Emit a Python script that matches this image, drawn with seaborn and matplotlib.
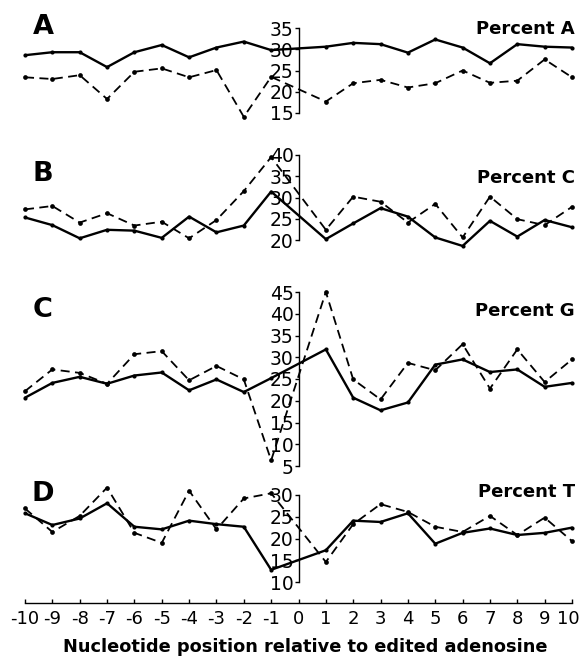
import matplotlib
matplotlib.use("Agg")
import matplotlib.pyplot as plt
import matplotlib.transforms as mtransforms
import seaborn as sns
import numpy as np

positions = [-10, -9, -8, -7, -6, -5, -4, -3, -2, -1, 1, 2, 3, 4, 5, 6, 7, 8, 9, 10]

a_solid = [28.6, 29.3, 29.3, 25.8, 29.3, 31.0, 28.1, 30.4, 31.8, 29.8,
           30.6, 31.5, 31.2, 29.2, 32.3, 30.4, 26.7, 31.2, 30.6, 30.4]
a_dashed = [23.4, 23.0, 23.9, 18.3, 24.7, 25.5, 23.4, 25.1, 14.1, 23.5,
            17.7, 22.0, 22.8, 21.0, 22.0, 25.0, 22.1, 22.6, 27.6, 23.4]

c_solid = [25.3, 23.5, 20.4, 22.4, 22.2, 20.5, 25.5, 21.8, 23.4, 31.4,
           20.2, 23.9, 27.5, 25.5, 20.6, 18.6, 24.5, 20.8, 24.7, 23.0]
c_dashed = [27.2, 28.0, 24.1, 26.3, 23.4, 24.3, 20.4, 24.7, 31.5, 39.5,
            22.4, 30.2, 29.0, 24.1, 28.5, 20.6, 30.2, 24.9, 23.5, 27.8]

g_solid = [20.7, 24.1, 25.5, 23.9, 25.8, 26.5, 22.4, 24.9, 22.0, 25.2,
           31.8, 20.7, 17.8, 19.6, 28.3, 29.5, 26.6, 27.2, 23.2, 24.1]
g_dashed = [22.2, 27.2, 26.4, 23.9, 30.7, 31.4, 24.7, 28.0, 24.9, 6.3,
            45.0, 24.9, 20.3, 28.7, 27.0, 33.0, 22.8, 31.8, 24.3, 29.5]

t_solid = [25.8, 23.1, 24.6, 28.1, 22.7, 22.1, 24.1, 23.3, 22.7, 12.8,
           17.3, 24.1, 23.8, 25.8, 18.8, 21.3, 22.3, 20.8, 21.3, 22.5]
t_dashed = [26.9, 21.5, 25.2, 31.7, 21.3, 19.0, 31.0, 22.1, 29.2, 30.4,
            14.6, 23.3, 27.9, 26.1, 22.7, 21.5, 25.2, 20.8, 24.8, 19.4]

panel_letters = ["A", "B", "C", "D"]
panel_titles = ["Percent A", "Percent C", "Percent G", "Percent T"]
xtick_labels = [str(v) for v in range(-10, 11)]
xlabel = "Nucleotide position relative to edited adenosine"

sns.set_style("white")
plt.rcParams["font.family"] = ["DejaVu Sans"]
plt.rcParams.update({
    "text.color": "black",
    "axes.labelcolor": "black",
    "axes.edgecolor": "black",
    "xtick.color": "black",
    "ytick.color": "black",
})

W, H = 581, 660
fig = plt.figure(figsize=(W / 100, H / 100), dpi=100)

x_left, x_right = 25, 572

# (series_solid, series_dashed, ylim_low, ylim_high, px_low, px_high, yticks, spine bounds)
panels = [
    (a_solid, a_dashed, 15, 35, 113, 28, [15, 20, 25, 30, 35], (15, 35)),
    (c_solid, c_dashed, 20, 40, 240, 155, [20, 25, 30, 35, 40], (20, 40)),
    (g_solid, g_dashed, 5, 45, 466, 292, list(range(5, 46, 5)), (5, 45)),
    (t_solid, t_dashed, 10, 30, 582, 495, [10, 15, 20, 25, 30], (10, 30)),
]

letter_y = [27, 174, 310, 494]
title_y = [29, 178, 311, 492]

for i, (sol, dsh, ylo, yhi, plo, phi, yt, bounds) in enumerate(panels):
    scale = (plo - phi) / (yhi - ylo)
    if i == 3:
        plo_ext = 603
        ylo_ext = ylo - (plo_ext - plo) / scale
    else:
        plo_ext = plo
        ylo_ext = ylo
    ax_h = plo_ext - phi
    ax = fig.add_axes([x_left / W, 1 - plo_ext / H, (x_right - x_left) / W, ax_h / H])
    ax.patch.set_alpha(0)
    sns.lineplot(x=positions, y=sol, ax=ax, color="black", lw=1.7,
                 marker="o", markersize=3, markeredgewidth=0, clip_on=False)
    sns.lineplot(x=positions, y=dsh, ax=ax, color="black", lw=1.3,
                 marker="o", markersize=3.4, markeredgewidth=0, clip_on=False)
    ax.lines[-1].set_dashes([5, 3])
    ax.set_xlim(-10, 10)
    ax.set_ylim(ylo_ext, yhi)
    ax.spines["left"].set_position(("data", 0))
    ax.spines["left"].set_bounds(*bounds)
    ax.spines["left"].set_linewidth(1.0)
    ax.spines["right"].set_visible(False)
    ax.spines["top"].set_visible(False)
    ax.set_yticks(yt)
    ax.set_yticklabels([str(v) for v in yt])
    ax.tick_params(axis="y", direction="out", length=3, width=1.0, pad=0.5,
                   labelsize=13.5, left=True)
    if i < 3:
        ax.spines["bottom"].set_visible(False)
        ax.set_xticks([])
    else:
        ax.spines["bottom"].set_linewidth(1.0)
        ax.set_xticks(range(-10, 11))
        ax.set_xticklabels(xtick_labels)
        ax.tick_params(axis="x", direction="in", length=3, width=1.0, pad=5,
                       labelsize=13, bottom=True)
        last = ax.get_xticklabels()[-1]
        last.set_transform(last.get_transform() +
                           mtransforms.ScaledTranslation(-4 / 100, 0, fig.dpi_scale_trans))
        ax.set_xlabel(xlabel, fontsize=12.8, fontweight="bold")
        ax.xaxis.label.set_va("center")
        ax.xaxis.set_label_coords((305 - x_left) / (x_right - x_left), -(647 - 603) / ax_h)
    ax.set_ylabel("")
    ax.grid(False)
    fig.text(43 / W, 1 - letter_y[i] / H, panel_letters[i], fontsize=19.5,
             fontweight="bold", ha="center", va="center")
    fig.text(575 / W, 1 - title_y[i] / H, panel_titles[i], fontsize=13,
             fontweight="bold", ha="right", va="center")

fig.savefig("out.png", dpi=100)
